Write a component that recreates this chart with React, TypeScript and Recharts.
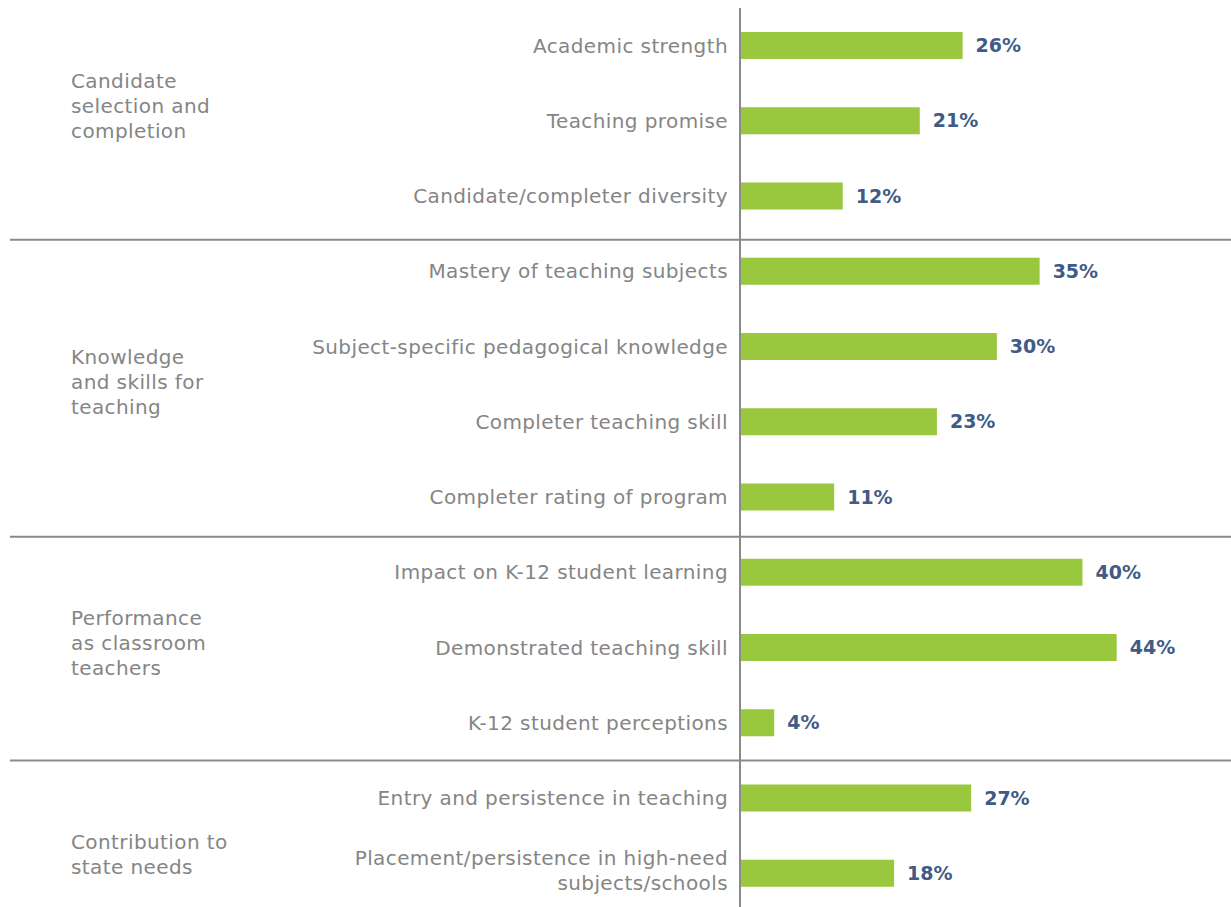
import { Bar, BarChart, LabelList, XAxis, YAxis } from "recharts";

const CATEGORIES = [
  "Academic strength",
  "Teaching promise",
  "Candidate/completer diversity",
  "Mastery of teaching subjects",
  "Subject-specific pedagogical knowledge",
  "Completer teaching skill",
  "Completer rating of program",
  "Impact on K-12 student learning",
  "Demonstrated teaching skill",
  "K-12 student perceptions",
  "Entry and persistence in teaching",
  "Placement/persistence in high-need|subjects/schools",
];

const VALUES = [26, 21, 12, 35, 30, 23, 11, 40, 44, 4, 27, 18];

const GROUP_LABELS = [
  ["Candidate", "selection and", "completion"],
  ["Knowledge", "and skills for", "teaching"],
  ["Performance", "as classroom", "teachers"],
  ["Contribution to", "state needs"],
];
const GROUP_SIZES = [3, 4, 3, 2];

// small hand nudges so group labels / separators sit where the original put them
const GROUP_NUDGE = [-15, -2, -5, 19];
const SEP_NUDGE = [0, 6, 2, 0];

const W = 1231;
const H = 911;
const TOP = 8;
const STEP = (H - TOP) / CATEGORIES.length;
const FONT = "'DejaVu Sans', sans-serif";
const GRAY = "#8a8a8a";
const TEXT = "#858585";

const rows = CATEGORIES.map((name, i) => ({ idx: i, name, value: VALUES[i] }));

const groupStarts = GROUP_SIZES.map((_, g) =>
  GROUP_SIZES.slice(0, g).reduce((a, b) => a + b, 0)
);

function CategoryTick(props: any) {
  const { x, y, payload } = props;
  const i = payload.value as number;
  const lines = CATEGORIES[i].split("|");
  const g = groupStarts.indexOf(i);
  const tx = x - 4;
  const lift = lines.length > 1 ? 3 : 0;
  return (
    <g>
      <text
        x={tx}
        y={y - ((lines.length - 1) * 25) / 2 - lift}
        textAnchor="end"
        dominantBaseline="central"
        fontFamily={FONT}
        fontSize={20}
        letterSpacing={0.4}
        fill={TEXT}
      >
        {lines.map((l, k) => (
          <tspan key={k} x={tx} dy={k === 0 ? 0 : 25}>
            {l}
          </tspan>
        ))}
      </text>
      {g >= 0 && (
        <>
          {g > 0 && (
            <line
              x1={10}
              x2={W}
              y1={y - STEP / 2 + SEP_NUDGE[g]}
              y2={y - STEP / 2 + SEP_NUDGE[g]}
              stroke={GRAY}
              strokeWidth={2}
            />
          )}
          <text
            x={71}
            y={
              y +
              ((GROUP_SIZES[g] - 1) * STEP) / 2 -
              ((GROUP_LABELS[g].length - 1) * 25) / 2 +
              GROUP_NUDGE[g]
            }
            dominantBaseline="central"
            fontFamily={FONT}
            fontSize={20}
            letterSpacing={0.4}
            fill={TEXT}
          >
            {GROUP_LABELS[g].map((l, k) => (
              <tspan key={k} x={71} dy={k === 0 ? 0 : 25}>
                {l}
              </tspan>
            ))}
          </text>
        </>
      )}
    </g>
  );
}

export default function App() {
  return (
    <div
      style={{
        position: "absolute",
        left: 0,
        top: 0,
        width: W,
        height: 907,
        overflow: "hidden",
        background: "#fff",
      }}
    >
      <BarChart
        width={W}
        height={H}
        data={rows}
        layout="vertical"
        margin={{ top: TOP, right: 3, bottom: 0, left: 0 }}
      >
        <XAxis type="number" domain={[0, 57]} hide />
        <YAxis
          type="number"
          dataKey="idx"
          domain={[-0.5, CATEGORIES.length - 0.5]}
          ticks={rows.map((r) => r.idx)}
          interval={0}
          width={740}
          tickLine={false}
          axisLine={{ stroke: GRAY, strokeWidth: 2 }}
          tick={<CategoryTick />}
        />
        <Bar
          dataKey="value"
          fill="#99c83e"
          barSize={27}
          isAnimationActive={false}
        >
          <LabelList
            dataKey="value"
            position="right"
            offset={13}
            formatter={(v: any) => `${v}%`}
            style={{
              fontFamily: FONT,
              fontSize: 19,
              fontWeight: "bold",
              fill: "#3f5b86",
            }}
          />
        </Bar>
      </BarChart>
    </div>
  );
}
